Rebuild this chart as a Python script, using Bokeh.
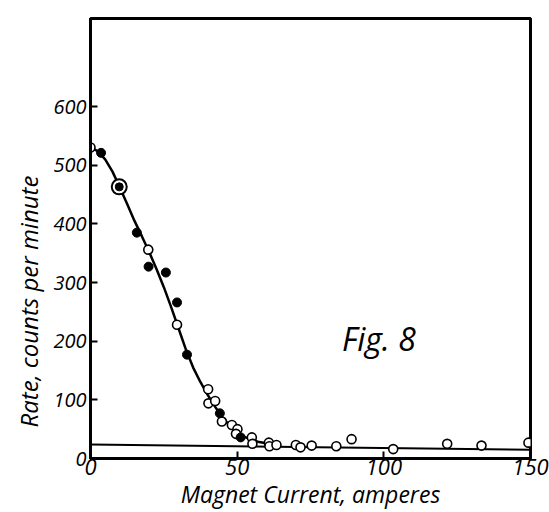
from bokeh.plotting import figure
from bokeh.models import Range1d, FixedTicker, Label, Title
from bokeh.embed import file_html
from bokeh.resources import INLINE

# ---- data ----
open_x = [0, 19.7, 29.5, 40.1, 40.2, 42.5, 44.8, 48.2, 50.1, 49.6, 55.0, 55.2,
          60.8, 61.0, 63.4, 70.0, 71.6, 75.4, 83.8, 89.0, 103.2, 121.6, 133.3, 149.3]
open_y = [530, 356, 228, 118, 94, 98, 63, 57, 50, 42, 36, 25,
          27, 21, 23, 23, 19, 22, 21, 33, 16, 25, 22, 27]

filled_x = [3.6, 15.8, 19.8, 25.7, 29.5, 32.9, 44.1, 51.2]
filled_y = [521, 385, 327, 317, 266, 177, 77, 36]

ring_x = [9.8]
ring_y = [463]

curve_x = [0, 2.5, 5, 7.5, 10, 12.5, 15, 17.5, 20, 22.5, 25, 27.5, 30, 32.5,
           35, 37.5, 40, 42.5, 45, 47.5, 50, 52.5, 55, 57.5, 60, 62.5]
curve_y = [530, 524, 510, 489, 462, 434, 405, 379, 352, 323, 292, 258, 222, 186,
           155, 130, 108, 88, 70, 56, 45, 37, 32, 28, 26, 25]

base_x = [0, 150]
base_y = [24, 15]

x_ticks = [0, 50, 100, 150]
y_ticks = [0, 100, 200, 300, 400, 500, 600]

x_title = "Magnet Current, amperes"
y_title = "Rate, counts per minute"
fig_note = "Fig. 8"

FONT = "Open Sans"

p = figure(width=549, height=512, x_range=Range1d(0, 150), y_range=Range1d(0, 750),
           output_backend="svg", toolbar_location=None,
           min_border_left=90, min_border_right=19, min_border_top=18, min_border_bottom=54)
p.xgrid.visible = False
p.ygrid.visible = False
p.background_fill_color = "white"
p.border_fill_color = "white"
p.outline_line_color = "black"
p.outline_line_width = 3

for ax in (p.xaxis, p.yaxis):
    ax.axis_line_width = 3
    ax.axis_line_color = "black"
    ax.major_tick_in = 7
    ax.major_tick_out = 0
    ax.major_tick_line_width = 2
    ax.minor_tick_line_color = None
    ax.major_label_text_font = FONT
    ax.major_label_text_font_style = "italic"
    ax.major_label_text_color = "black"

p.xaxis.ticker = FixedTicker(ticks=x_ticks)
p.yaxis.ticker = FixedTicker(ticks=y_ticks)
p.xaxis.major_label_text_font_size = "22px"
p.yaxis.major_label_text_font_size = "20px"
p.xaxis.major_label_standoff = 0
p.yaxis.major_label_standoff = 4

p.xaxis.axis_label = x_title
p.xaxis.axis_label_text_font = FONT
p.xaxis.axis_label_text_font_style = "italic"
p.xaxis.axis_label_text_font_size = "23px"
p.xaxis.axis_label_text_color = "black"
p.xaxis.axis_label_standoff = 0

p.add_layout(Title(text=y_title, align="left", offset=31, standoff=12,
                   text_font=FONT, text_font_style="italic", text_font_size="24px",
                   text_color="black"), "left")

# lines
p.line(base_x, base_y, line_color="black", line_width=2)
p.line(curve_x, curve_y, line_color="black", line_width=2.5)

# points
p.scatter(open_x, open_y, size=9, fill_color="white", line_color="black", line_width=1.6)
p.scatter(filled_x, filled_y, size=9, fill_color="black", line_color="black")
p.scatter(ring_x, ring_y, size=15, fill_color="white", line_color="black", line_width=2)
p.scatter(ring_x, ring_y, size=8, fill_color="black", line_color="black")

p.add_layout(Label(x=85.7, y=205, text=fig_note,
                   text_align="left", text_baseline="alphabetic",
                   text_font=FONT, text_font_style="italic", text_font_size="32px",
                   text_color="black"))

open("out.html", "w").write(file_html(p, INLINE))
